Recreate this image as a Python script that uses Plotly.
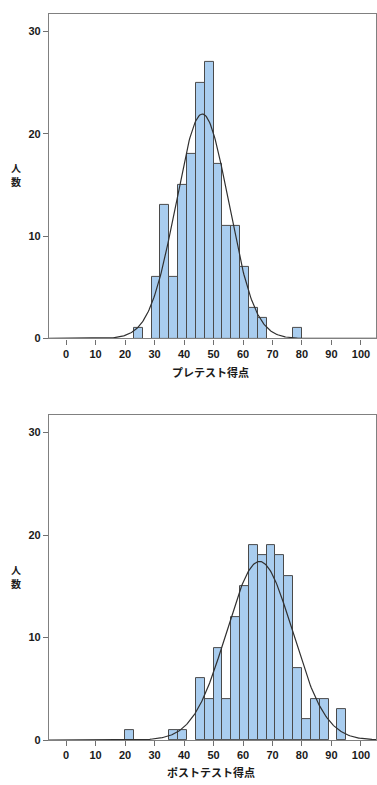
import numpy as np
import plotly.graph_objects as go

# ---- data ----
bin_width = 3
pre_centers = [24.5, 30.5, 33.5, 36.5, 39.5, 42.5, 45.5, 48.5, 51.5, 54.5, 57.5, 60.5, 63.5, 66.5, 78.5]
pre_counts = [1, 6, 13, 6, 15, 18, 25, 27, 17, 11, 11, 7, 3, 2, 1]
post_centers = [21.5, 36.5, 39.5, 45.5, 48.5, 51.5, 54.5, 57.5, 60.5, 63.5, 66.5, 69.5, 72.5, 75.5,
                78.5, 81.5, 84.5, 87.5, 93.5]
post_counts = [1, 1, 1, 6, 4, 9, 4, 12, 15, 19, 18, 19, 18, 16, 7, 2, 4, 4, 3]
pre_mean, pre_sd = 46.2, 8.9
post_mean, post_sd = 65.6, 11.2
x_ticks = [0, 10, 20, 30, 40, 50, 60, 70, 80, 90, 100]
y_ticks = [0, 10, 20, 30]
pre_title = "プレテスト得点"
post_title = "ポストテスト得点"
y_title = "人数"

W, H = 377, 785
X_RANGE = [-5.8, 105.1]
Y_RANGE = [0, 31.7]

def normal_curve(mean, sd, n):
    xs = np.linspace(X_RANGE[0], X_RANGE[1], 400)
    ys = n * bin_width / (sd * np.sqrt(2 * np.pi)) * np.exp(-0.5 * ((xs - mean) / sd) ** 2)
    return xs, ys

fig = go.Figure()
bar_style = dict(width=bin_width, marker=dict(color="#a9cdef", line=dict(color="#4a4a4a", width=1)),
                 showlegend=False, hoverinfo="x+y")

fig.add_trace(go.Bar(x=pre_centers, y=pre_counts, xaxis="x", yaxis="y", **bar_style))
xs, ys = normal_curve(pre_mean, pre_sd, sum(pre_counts))
fig.add_trace(go.Scatter(x=xs, y=ys, mode="lines", line=dict(color="#303030", width=1.2),
                         xaxis="x", yaxis="y", showlegend=False, hoverinfo="skip"))

fig.add_trace(go.Bar(x=post_centers, y=post_counts, xaxis="x2", yaxis="y2", **bar_style))
xs, ys = normal_curve(post_mean, post_sd, sum(post_counts))
fig.add_trace(go.Scatter(x=xs, y=ys, mode="lines", line=dict(color="#303030", width=1.2),
                         xaxis="x2", yaxis="y2", showlegend=False, hoverinfo="skip"))

tickfont = dict(family="Liberation Sans, Arial, sans-serif", size=11, color="#1a1a1a", weight="bold")
xd = [49 / W, 376 / W]
top_dom = [(H - 341) / H, (H - 14) / H]
bot_dom = [(H - 745.7) / H, (H - 418.3) / H]

def xaxis_cfg(anchor):
    return dict(domain=xd, range=X_RANGE, tickvals=x_ticks, ticks="outside", ticklen=5, tickcolor="#707070",
                showline=True, linecolor="#808080", linewidth=1.3, mirror=True, showgrid=False,
                zeroline=False, tickfont=tickfont, anchor=anchor, fixedrange=True)

def yaxis_cfg(dom, anchor):
    return dict(domain=dom, range=Y_RANGE, tickvals=y_ticks, ticks="outside", ticklen=5, tickcolor="#707070",
                showline=True, linecolor="#808080", linewidth=1.3, mirror=True, showgrid=False,
                zeroline=False, tickfont=tickfont, anchor=anchor, fixedrange=True)

cjk = dict(family="Noto Sans CJK JP, sans-serif", size=11, color="#1a1a1a", weight="bold")
cjk_small = dict(cjk, size=10)

def ann(text, x, y, font):
    return dict(text=text, x=x / W, y=(H - y) / H, xref="paper", yref="paper", showarrow=False,
                xanchor="center", yanchor="middle", font=font)

annotations = [
    ann(pre_title, 210, 375, cjk),
    ann(post_title, 211, 778, cjk),
]
for cy in (176, 581):
    annotations.append(ann(y_title[0], 16, cy - 7, cjk_small))
    annotations.append(ann(y_title[1], 16, cy + 7, cjk_small))

fig.update_layout(
    width=W, height=H, margin=dict(l=0, r=0, t=0, b=0),
    paper_bgcolor="white", plot_bgcolor="white",
    xaxis=xaxis_cfg("y"), yaxis=yaxis_cfg(top_dom, "x"),
    xaxis2=xaxis_cfg("y2"), yaxis2=yaxis_cfg(bot_dom, "x2"),
    annotations=annotations, bargap=0,
)

fig.write_html("out.html", config={"displayModeBar": False},
               post_script="document.body.style.margin='0';document.body.style.overflow='hidden';")
